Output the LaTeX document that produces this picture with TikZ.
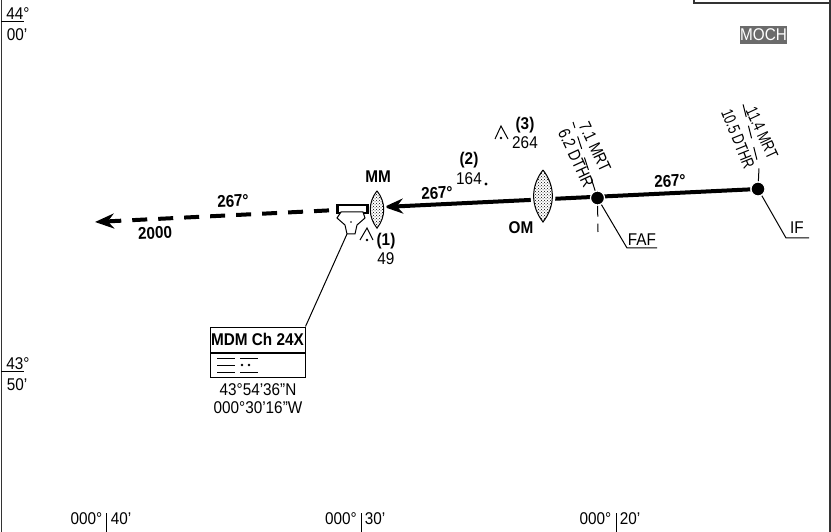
\documentclass[tikz,border=0pt]{standalone}
\usepackage{fontspec}
\setmainfont[FakeStretch=0.9]{Liberation Sans}
\newfontfamily\fafmrtfont[FakeStretch=0.82]{Liberation Sans}
\newfontfamily\ifmrtfont[FakeStretch=0.74]{Liberation Sans}
\usetikzlibrary{arrows.meta,patterns}
\tikzset{
  txt/.style={inner sep=0pt,align=center,font=\fontsize{17}{18}\selectfont},
  btxt/.style={inner sep=0pt,align=center,font=\fontsize{17}{18}\selectfont\bfseries},
  fafmrt/.style={inner sep=0pt,font=\fontsize{17}{18}\fafmrtfont},
  ifmrt/.style={inner sep=0pt,font=\fontsize{17}{18}\ifmrtfont},
  fix/.style={shape=circle,fill=black,draw=white,line width=1.2pt,inner sep=0pt,minimum size=14pt},
  thin line/.style={draw=black,line width=1pt},
  radial/.style={draw=black,line width=1pt,dash pattern=on 13pt off 9pt},
  lens/.pic={\path[pattern=crosshatch dots,draw=black,line width=1pt,preaction={draw=white,fill=white,line width=6pt}] (0,-26) to[bend left=38] (0,26) to[bend left=38] (0,-26);}
}
\begin{document}
\begin{tikzpicture}[x=1pt,y=-1pt]
\useasboundingbox (0,0) rectangle (831,532);
\draw [draw=black!80,line width=1.6pt] (1.5,0) -- (1.5,532);
\draw [draw=black!80,line width=1.2pt] (830,0) -- (830,532);
\draw [draw=black!80,line width=1.2pt] (694,0) -- (694,3) -- (830,3);

\node[txt] (lat44) at (18,14) {44°};
\node[txt] (min00) at (17,35) {00'};
\node[txt] (lat43) at (18,364) {43°};
\node[txt] (min50) at (17,385) {50'};
\draw [thin line] (1,21.5) -- (24,21.5);
\draw [thin line] (1,371.5) -- (24,371.5);

\node[txt,fill=black!58,text=white,minimum width=47pt,minimum height=18pt] (moch) at (763.5,35) {MOCH};

\coordinate (tip) at (384,207);
\coordinate (mmend) at (337,210);
\coordinate (missed) at (95,222);
\node[fix] (faf) at (597.5,198) {};
\node[fix] (if) at (758,189) {};
\coordinate (fafup) at (573,122);
\coordinate (fafdown) at (598,232);
\coordinate (ifup) at (742,100);
\coordinate (ifmid) at (759,168);
\coordinate (fafbend) at (627,248);
\coordinate (fafend) at (657,248);
\coordinate (ifbend) at (786,238);
\coordinate (ifend) at (809,238);

\path [radial] (faf) -- (fafup);
\path [radial,dash pattern=on 11pt off 7pt] (faf) -- (fafdown);
\path [radial] (if) -- (ifmid) -- (ifup);
\path [-{Stealth[length=19pt,width=15pt]},draw=black,line width=4pt] (if) -- (tip);
\path [-{Stealth[length=19pt,width=15pt]},draw=black,line width=4pt,dash pattern=on 15pt off 11pt,dash phase=18pt] (mmend) -- (missed);
\path [thin line] (faf) -- (fafbend) -- (fafend);
\path [thin line] (if) -- (ifbend) -- (ifend);
\node[fix] (fafdot) at (faf) {};
\node[fix] (ifdot) at (if) {};

\pic at (543,196) {lens};
\pic[scale=0.72] at (377,209.5) {lens};

\node[btxt] (mm) at (378,177) {MM};
\node[btxt] (om) at (521,228) {OM};
\node[btxt,rotate=3] (crsa) at (233,201) {267°};
\node[btxt,rotate=3] (crsb) at (437,193) {267°};
\node[btxt,rotate=3] (crsc) at (670,181) {267°};
\node[btxt,rotate=3] (alt) at (155,233) {2000};

\node[fafmrt,rotate=-65] (mrta) at (595,147) {7.1 MRT};
\node[fafmrt,rotate=-65] (dthra) at (576,158) {6.2 DTHR};
\node[ifmrt,rotate=-65] (mrtb) at (762,133) {11.4 MRT};
\node[ifmrt,rotate=-68] (dthrb) at (738,139) {10.5 DTHR};
\node[txt] (faflab) at (642,240) {FAF};
\node[txt] (iflab) at (797,228) {IF};

\draw [draw=black,line width=2.4pt,fill=white] (337.5,205) rectangle (367.5,213);
\draw [thin line,fill=white] (337,218) -- (341,212) -- (363,212) -- (365,218) -- (357,225) -- (355,234) -- (347,234) -- (345,225) -- cycle;
\fill (351,222) circle (0.9pt);

\draw [thin line] (360,240) -- (367,228) -- (373,240);
\fill (367,240) circle (1.3pt);
\draw [thin line] (495,139) -- (501,126) -- (508,139);
\fill (501,138) circle (1.3pt);
\fill (486,184) circle (1.6pt);

\node[btxt] (obsa) at (386,241) {(1)};
\node[txt] (hta) at (386,259) {49};
\node[btxt] (obsb) at (469,160) {(2)};
\node[txt] (htb) at (469,179) {164};
\node[btxt] (obsc) at (525,125) {(3)};
\node[txt] (htc) at (525,143) {264};

\node[shape=rectangle,draw=black,line width=1pt,minimum width=95pt,minimum height=25pt,inner sep=0pt,btxt] (mdm) at (257.5,339.5) {MDM Ch 24X};
\node[shape=rectangle,draw=black,line width=1pt,minimum width=95pt,minimum height=24pt,inner sep=0pt,anchor=north] (morse) at (mdm.south) {};
\path [thin line] (mdm.north east) -- (347,234);
\draw [thin line] (217,358) -- (235,358);
\draw [thin line] (217,365) -- (235,365);
\draw [thin line] (217,372) -- (235,372);
\draw [thin line] (240,358) -- (258,358);
\draw [thin line] (240,372) -- (258,372);
\fill (242,365) circle (1.3pt);
\fill (249,365) circle (1.3pt);
\node[txt] (pos) at (258,399) {43°54'36”N\\000°30'16”W};

\node[txt] (lona) at (86.5,519) {000°};
\node[txt] (mina) at (121,519) {40'};
\node[txt] (lonb) at (341,519) {000°};
\node[txt] (minb) at (375,519) {30'};
\node[txt] (lonc) at (595.5,519) {000°};
\node[txt] (minc) at (630,519) {20'};
\draw [thin line] (106,513) -- (106,532);
\draw [thin line] (361,513) -- (361,532);
\draw [thin line] (616,513) -- (616,532);
\end{tikzpicture}
\end{document}
